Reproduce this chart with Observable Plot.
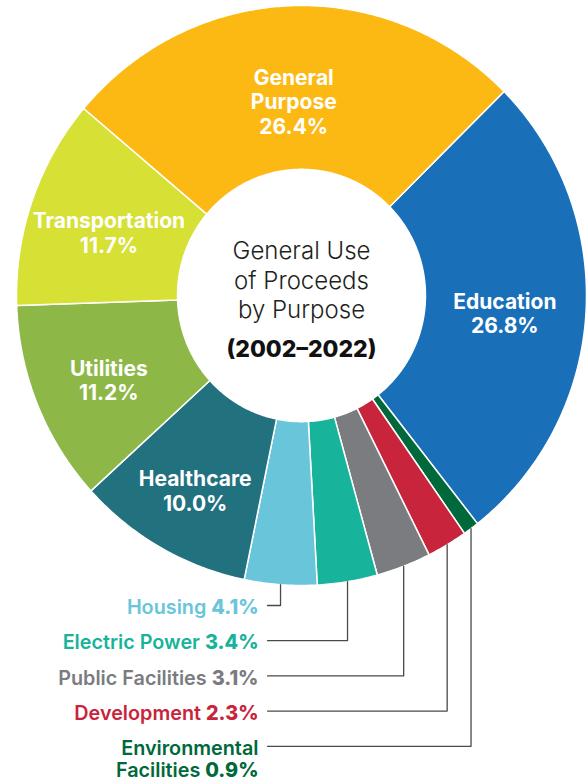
<!DOCTYPE html>
<html>
<head>
<meta charset="utf-8">
<script src="https://cdn.jsdelivr.net/npm/d3@7"></script>
<script src="https://cdn.jsdelivr.net/npm/@observablehq/plot@0.6"></script>
<style>
  html, body { margin: 0; padding: 0; background: #fff; }
  #chart { width: 587px; height: 784px; overflow: hidden; }
</style>
</head>
<body>
<div id="chart"></div>
<script>
// ---------- data ----------
const categories = ["Education", "Environmental Facilities", "Development", "Public Facilities",
  "Electric Power", "Housing", "Healthcare", "Utilities", "Transportation", "General Purpose"];
const shares = [26.8, 0.9, 2.3, 3.1, 3.4, 4.1, 10.0, 11.2, 11.7, 26.4];
const sliceColors = ["#1a70b8", "#00693b", "#c8253c", "#7a7c7f", "#18b39b",
  "#69c5da", "#21717f", "#8db848", "#d6e035", "#fdb913"];
const labelNames = ["Education", "Environmental\nFacilities", "Development", "Public Facilities",
  "Electric Power", "Housing", "Healthcare", "Utilities", "Transportation", "General\nPurpose"];
const insideCategories = ["Education", "Healthcare", "Utilities", "Transportation", "General Purpose"];
const calloutCategories = ["Housing", "Electric Power", "Public Facilities", "Development", "Environmental Facilities"];
const titleLines = "General Use\nof Proceeds\nby Purpose";
const periodLabel = "(2002–2022)";

// ---------- layout ----------
const W = 587, H = 784;
const CX = 301, CY = 295, RX = 285, RY = 290;   // outer ellipse in pixels
const INNER = 0.435;                              // inner radius fraction
const START = 45.3;                               // degrees clockwise from top
const px2x = p => (p - CX) / RX;
const py2y = p => (CY - p) / RY;
const rad = d => d * Math.PI / 180;

const total = d3.sum(shares);
let acc = START;
const slices = categories.map((cat, i) => {
  const a0 = acc, a1 = acc + shares[i] / total * 360;
  acc = a1;
  return {cat, a0, a1, mid: (a0 + a1) / 2, share: shares[i], name: labelNames[i]};
});

// polygon vertices for each ring slice
const polys = [];
for (const s of slices) {
  const n = Math.max(2, Math.ceil((s.a1 - s.a0) / 0.5));
  for (let k = 0; k <= n; k++) {
    const a = rad(s.a0 + (s.a1 - s.a0) * k / n);
    polys.push({cat: s.cat, x: Math.sin(a), y: Math.cos(a)});
  }
  for (let k = n; k >= 0; k--) {
    const a = rad(s.a0 + (s.a1 - s.a0) * k / n);
    polys.push({cat: s.cat, x: INNER * Math.sin(a), y: INNER * Math.cos(a)});
  }
}

// inside labels near slice centroids
const labelRadius = {"General Purpose": 0.686, "Healthcare": 0.755, "Utilities": 0.73};
const LABEL_DY = 5; // px downward
const inside = slices.filter(s => insideCategories.includes(s.cat)).map(s => {
  const r = labelRadius[s.cat] ?? 0.715;
  return {
    cat: s.cat,
    x: r * Math.sin(rad(s.mid)),
    y: r * Math.cos(rad(s.mid)) - LABEL_DY / RY,
    text: s.name + "\n" + s.share.toFixed(1) + "%"
  };
});

// callouts below the ring
const ROW0 = 605, ROWSTEP = 35.2, TEXT_RIGHT = 258, LINE_LEFT = 267;
const callouts = [], leaders = [];
calloutCategories.forEach((cat, i) => {
  const s = slices.find(d => d.cat === cat);
  const rowY = ROW0 + ROWSTEP * i;
  const ax = Math.sin(rad(s.mid)), ay = Math.cos(rad(s.mid));
  callouts.push({cat, x: px2x(TEXT_RIGHT), y: py2y(rowY - 7), text: s.name + " " + s.share.toFixed(1) + "%"});
  leaders.push({cat, x: px2x(LINE_LEFT), y: py2y(rowY)});
  leaders.push({cat, x: ax, y: py2y(rowY)});
  leaders.push({cat, x: ax, y: ay});
});

const svg = Plot.plot({
  width: W, height: H, margin: 0,
  x: {domain: [-1, 1], range: [CX - RX, CX + RX], axis: null},
  y: {domain: [-1, 1], range: [CY + RY, CY - RY], axis: null},
  color: {domain: categories, range: sliceColors},
  style: {background: "white", fontFamily: "Inter, 'Open Sans', sans-serif", overflow: "visible"},
  marks: [
    Plot.line(polys, {x: "x", y: "y", z: "cat", fill: "cat", stroke: "white", strokeWidth: 1.5, curve: "linear-closed"}),
    Plot.text(inside, {x: "x", y: "y", text: "text", fill: "white", fontSize: 21, fontWeight: 700, lineHeight: 1.15}),
    Plot.line(leaders, {x: "x", y: "y", z: "cat", stroke: "#4a4a4a", strokeWidth: 1.3}),
    Plot.text(callouts, {x: "x", y: "y", text: "text", fill: "cat", textAnchor: "end", lineAnchor: "top",
      fontSize: 19.8, fontWeight: 600, lineHeight: 1.12}),
    Plot.text([{x: 0, y: py2y(287 - 0.35 * 24), text: titleLines}], {x: "x", y: "y", text: "text",
      fill: "#231f20", fontSize: 24, fontWeight: 300, lineHeight: 1.24}),
    Plot.text([{x: 0, y: py2y(357 - 0.35 * 23), text: periodLabel}], {x: "x", y: "y", text: "text",
      fill: "#111", fontSize: 23, fontWeight: 800})
  ]
});

// bolder percentage inside "Name 4.1%" callout lines
const NS = "http://www.w3.org/2000/svg";
svg.querySelectorAll("text, tspan").forEach(node => {
  if (node.children.length) return;
  const m = node.textContent.match(/^(.*\s)(\d+\.\d%)$/);
  if (!m) return;
  node.textContent = m[1];
  const t = document.createElementNS(NS, "tspan");
  t.setAttribute("font-weight", "800");
  t.textContent = m[2];
  node.appendChild(t);
});

document.getElementById("chart").appendChild(svg);
</script>
</body>
</html>
